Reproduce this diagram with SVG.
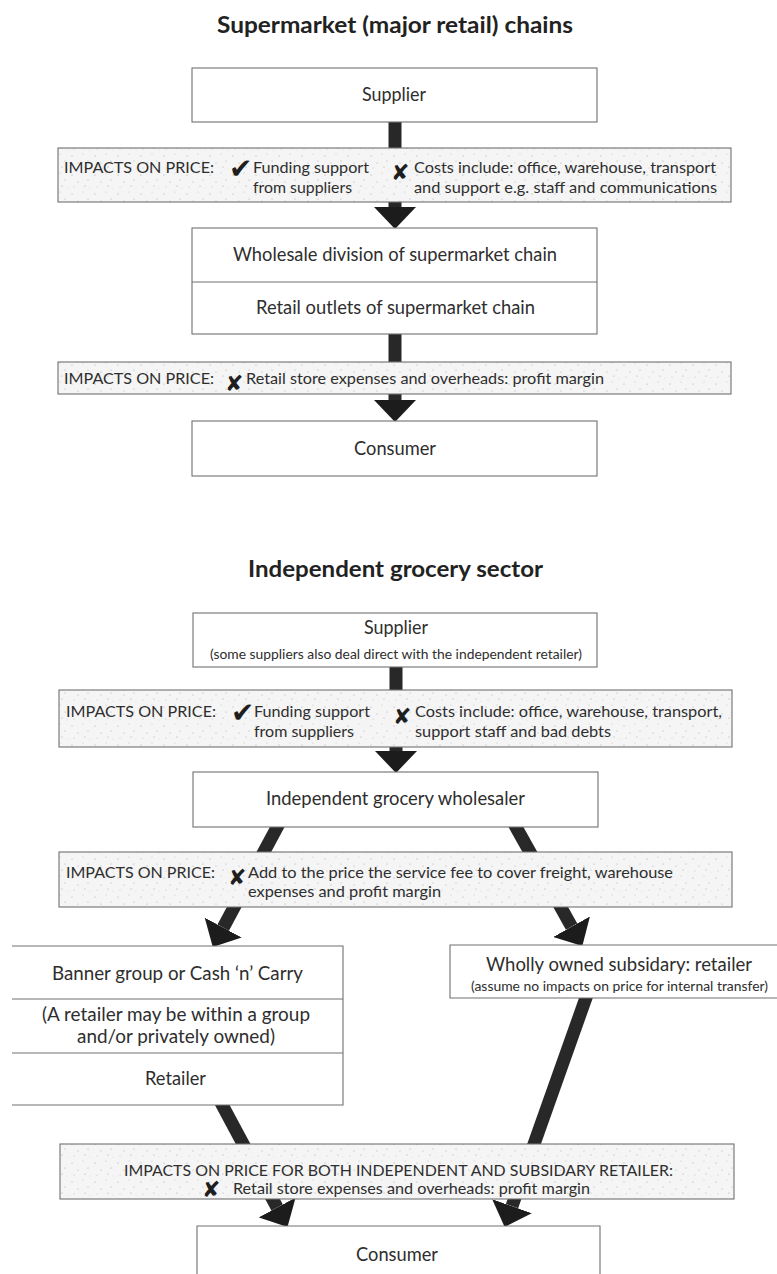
<svg xmlns="http://www.w3.org/2000/svg" width="777" height="1274" viewBox="0 0 777 1274">
<style>
.t{font-family:Lato,"Open Sans","Liberation Sans",sans-serif;fill:#2e2e2e}
.title{font-size:22px;font-weight:700;fill:#222}
.main{font-size:18.5px}
.imp{font-size:16px}
.small{font-size:12.5px}
.sym{font-family:"DejaVu Sans",sans-serif;fill:#1e1e1e}
.chk{font-size:28px}
.crs{font-size:22px}
.box{fill:#fff;stroke:#707070;stroke-width:1.1}
.edge{fill:none;stroke:#707070;stroke-width:1.1}
.ibox{fill:url(#speck);stroke:#707070;stroke-width:1.1}
.shaft{stroke:#282828;stroke-width:13;fill:none;marker-end:url(#head)}
</style>
<defs>
<pattern id="speck" width="23" height="19" patternUnits="userSpaceOnUse">
<rect width="23" height="19" fill="#f5f5f5"/>
<circle cx="3" cy="4" r="0.6" fill="#a8a8a8"/>
<circle cx="14" cy="2" r="0.5" fill="#bdbdbd"/>
<circle cx="9" cy="11" r="0.6" fill="#b0b0b0"/>
<circle cx="19" cy="9" r="0.5" fill="#a0a0a0"/>
<circle cx="5" cy="16" r="0.5" fill="#bbbbbb"/>
<circle cx="16" cy="15" r="0.6" fill="#aaaaaa"/>
<circle cx="21" cy="17" r="0.4" fill="#c0c0c0"/>
</pattern>
<marker id="head" markerUnits="userSpaceOnUse" markerWidth="22" markerHeight="42" viewBox="0 0 22 42" refX="0" refY="21" orient="auto">
<path d="M0,0 L22,21 L0,42 Z" fill="#1c1c1c"/>
</marker>
</defs>

<text class="t title" x="217" y="33" textLength="356" lengthAdjust="spacingAndGlyphs">Supermarket (major retail) chains</text>
<text class="t title" x="248" y="577" textLength="295" lengthAdjust="spacingAndGlyphs">Independent grocery sector</text>

<g id="connectors">
<line class="shaft" x1="395" y1="116" x2="395" y2="207"/>
<line class="shaft" x1="395" y1="328" x2="395" y2="400"/>
<line class="shaft" x1="396" y1="661" x2="396" y2="751"/>
<line class="shaft" x1="281" y1="820" x2="223.2" y2="927.6"/>
<line class="shaft" x1="512" y1="820" x2="571.6" y2="926.7"/>
<line class="shaft" x1="219" y1="1099" x2="277.1" y2="1207.5"/>
<line class="shaft" x1="588" y1="992" x2="512" y2="1206.2"/>
</g>

<g id="supplier1">
<rect class="box" x="192" y="68" width="405" height="54"/>
<text class="t main" x="362" y="101" textLength="64" lengthAdjust="spacingAndGlyphs">Supplier</text>
</g>

<g id="impact1">
<rect class="ibox" x="58" y="148" width="673" height="54"/>
<text class="t imp" x="64" y="173" textLength="150" lengthAdjust="spacingAndGlyphs">IMPACTS ON PRICE:</text>
<text class="sym chk" x="229" y="178">✔</text>
<text class="t imp" x="253" y="173" textLength="116" lengthAdjust="spacingAndGlyphs">Funding support</text>
<text class="t imp" x="253" y="193" textLength="99" lengthAdjust="spacingAndGlyphs">from suppliers</text>
<text class="sym crs" x="391" y="180">✘</text>
<text class="t imp" x="414" y="173" textLength="302" lengthAdjust="spacingAndGlyphs">Costs include: office, warehouse, transport</text>
<text class="t imp" x="414" y="193" textLength="303" lengthAdjust="spacingAndGlyphs">and support e.g. staff and communications</text>
</g>

<g id="wholesale-retail">
<rect class="box" x="192" y="228" width="405" height="106"/>
<line class="edge" x1="192" y1="282" x2="597" y2="282"/>
<text class="t main" x="233" y="261" textLength="324" lengthAdjust="spacingAndGlyphs">Wholesale division of supermarket chain</text>
<text class="t main" x="256" y="314" textLength="279" lengthAdjust="spacingAndGlyphs">Retail outlets of supermarket chain</text>
</g>

<g id="impact2">
<rect class="ibox" x="58" y="362" width="673" height="32"/>
<text class="t imp" x="64" y="384" textLength="150" lengthAdjust="spacingAndGlyphs">IMPACTS ON PRICE:</text>
<text class="sym crs" x="225" y="391">✘</text>
<text class="t imp" x="246" y="384" textLength="358" lengthAdjust="spacingAndGlyphs">Retail store expenses and overheads: profit margin</text>
</g>

<g id="consumer1">
<rect class="box" x="192" y="421" width="405" height="55"/>
<text class="t main" x="354" y="455" textLength="82" lengthAdjust="spacingAndGlyphs">Consumer</text>
</g>

<g id="supplier2">
<rect class="box" x="193" y="613" width="404" height="54"/>
<text class="t main" x="364" y="634" textLength="64" lengthAdjust="spacingAndGlyphs">Supplier</text>
<text class="t small" x="210" y="659" textLength="372" lengthAdjust="spacingAndGlyphs">(some suppliers also deal direct with the independent retailer)</text>
</g>

<g id="impact3">
<rect class="ibox" x="59" y="690" width="673" height="57"/>
<text class="t imp" x="66" y="717" textLength="150" lengthAdjust="spacingAndGlyphs">IMPACTS ON PRICE:</text>
<text class="sym chk" x="231" y="722">✔</text>
<text class="t imp" x="254" y="717" textLength="116" lengthAdjust="spacingAndGlyphs">Funding support</text>
<text class="t imp" x="254" y="737" textLength="100" lengthAdjust="spacingAndGlyphs">from suppliers</text>
<text class="sym crs" x="393" y="724">✘</text>
<text class="t imp" x="415" y="717" textLength="307" lengthAdjust="spacingAndGlyphs">Costs include: office, warehouse, transport,</text>
<text class="t imp" x="415" y="737" textLength="196" lengthAdjust="spacingAndGlyphs">support staff and bad debts</text>
</g>

<g id="wholesaler">
<rect class="box" x="193" y="772" width="405" height="55"/>
<text class="t main" x="266" y="805" textLength="259" lengthAdjust="spacingAndGlyphs">Independent grocery wholesaler</text>
</g>

<g id="impact4">
<rect class="ibox" x="59" y="852" width="673" height="55"/>
<text class="t imp" x="66" y="878" textLength="149" lengthAdjust="spacingAndGlyphs">IMPACTS ON PRICE:</text>
<text class="sym crs" x="228" y="885">✘</text>
<text class="t imp" x="248" y="878" textLength="425" lengthAdjust="spacingAndGlyphs">Add to the price the service fee to cover freight, warehouse</text>
<text class="t imp" x="248" y="897" textLength="193" lengthAdjust="spacingAndGlyphs">expenses and profit margin</text>
</g>

<g id="banner-retailer">
<rect x="12" y="946" width="331" height="159" fill="#fff"/>
<path class="edge" d="M12,946 H343 V1105 H12 M12,999 H343 M12,1053 H343"/>
<text class="t main" x="52" y="980" textLength="251" lengthAdjust="spacingAndGlyphs">Banner group or Cash ‘n’ Carry</text>
<text class="t main" x="42" y="1021" textLength="268" lengthAdjust="spacingAndGlyphs">(A retailer may be within a group</text>
<text class="t main" x="77" y="1043" textLength="198" lengthAdjust="spacingAndGlyphs">and/or privately owned)</text>
<text class="t main" x="145" y="1085" textLength="61" lengthAdjust="spacingAndGlyphs">Retailer</text>
</g>

<g id="subsidiary">
<rect x="450" y="945" width="327" height="53" fill="#fff"/>
<path class="edge" d="M777,945 H450 V998 H777"/>
<text class="t main" x="486" y="971" textLength="266" lengthAdjust="spacingAndGlyphs">Wholly owned subsidary: retailer</text>
<text class="t small" x="471" y="991" textLength="297" lengthAdjust="spacingAndGlyphs">(assume no impacts on price for internal transfer)</text>
</g>

<g id="impact5">
<rect class="ibox" x="60" y="1144" width="674" height="55"/>
<text class="t imp" x="124" y="1176" textLength="549" lengthAdjust="spacingAndGlyphs">IMPACTS ON PRICE FOR BOTH INDEPENDENT AND SUBSIDARY RETAILER:</text>
<text class="sym crs" x="202" y="1197">✘</text>
<text class="t imp" x="233" y="1194" textLength="357" lengthAdjust="spacingAndGlyphs">Retail store expenses and overheads: profit margin</text>
</g>

<g id="consumer2">
<rect x="197" y="1226" width="403" height="48" fill="#fff"/>
<path class="edge" d="M197,1274 V1226 H600 V1274"/>
<text class="t main" x="356" y="1261" textLength="82" lengthAdjust="spacingAndGlyphs">Consumer</text>
</g>
</svg>
